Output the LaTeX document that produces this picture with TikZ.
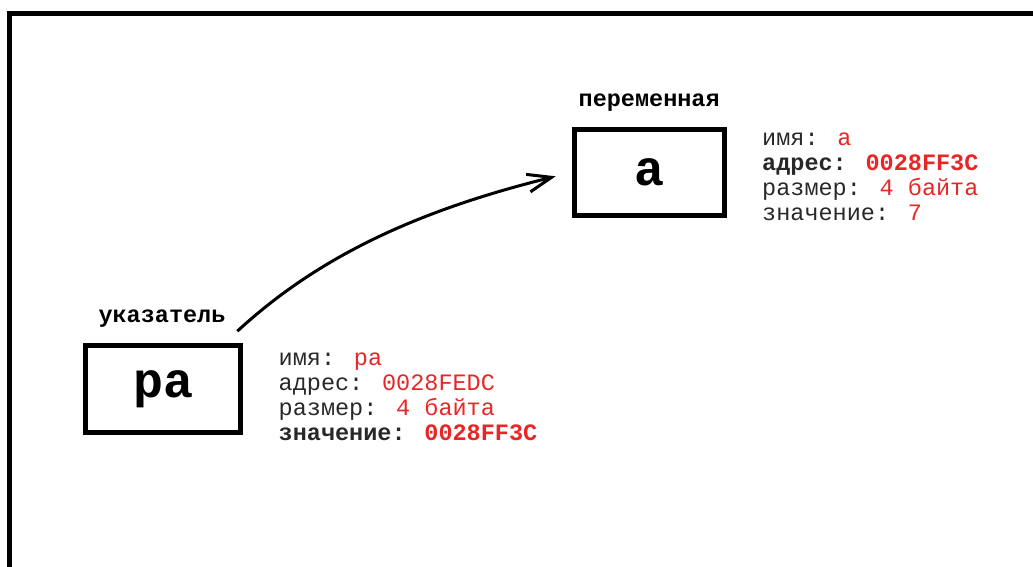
\documentclass[tikz,border=0pt]{standalone}
\usepackage{fontspec}
\setmainfont{Liberation Mono}
\usetikzlibrary{arrows.meta}
\definecolor{valred}{RGB}{232,38,38}
\definecolor{keyink}{RGB}{40,40,40}
\tikzset{
  cell/.style={draw=black, line width=5pt, minimum width=150pt, minimum height=86pt,
    inner sep=0pt, font=\fontsize{50}{50}\selectfont\bfseries},
  caption/.style={inner sep=0pt, anchor=base, font=\fontsize{23.5}{25}\selectfont\bfseries},
  info/.style={inner sep=0pt, anchor=base west, font=\fontsize{23.5}{25}\selectfont, text=keyink},
  frame/.style={line width=5pt, line cap=rect},
  link/.style={line width=3pt, -{Straight Barb[length=24pt,width=18pt,line width=3pt]}}
}
\newcommand{\val}[1]{\textcolor{valred}{#1}}
\begin{document}
\begin{tikzpicture}[x=1pt, y=-1pt]
  \useasboundingbox (0,0) rectangle (1033,566);
  % outer frame, open to the right and bottom
  \draw[frame] (9.8,570) -- (9.8,13.5) -- (1040,13.5);

  % the variable
  \node[cell, minimum width=150pt] (a) at (649.2,172.3) {a};
  \node[caption] (acap) at (649.2,106.5) {переменная};
  \node[info] (a1) at (762,145) {имя: \val{a}};
  \node[info] (a2) at (762,170.3) {\textbf{адрес: \val{0028FF3C}}};
  \node[info] (a3) at (762,195.6) {размер: \val{4 байта}};
  \node[info] (a4) at (762,220.9) {значение: \val{7}};

  % the pointer
  \node[cell, minimum width=155pt, minimum height=87pt] (pa) at (163.3,389.2) {pa};
  \node[caption] (pacap) at (162,322.5) {указатель};
  \node[info] (p1) at (278.5,365) {имя: \val{pa}};
  \node[info] (p2) at (278.5,390.3) {адрес: \val{0028FEDC}};
  \node[info] (p3) at (278.5,415.6) {размер: \val{4 байта}};
  \node[info] (p4) at (278.5,440.9) {\textbf{значение: \val{0028FF3C}}};

  % pointer -> variable
  \coordinate (start) at ([xshift=-6pt,yshift=12pt]pa.north east);
  \coordinate (tip) at ([xshift=-16pt,yshift=-4pt]a.west);
  \draw[link] (start) .. controls (320,255) and (420,210) .. (tip);
\end{tikzpicture}
\end{document}
